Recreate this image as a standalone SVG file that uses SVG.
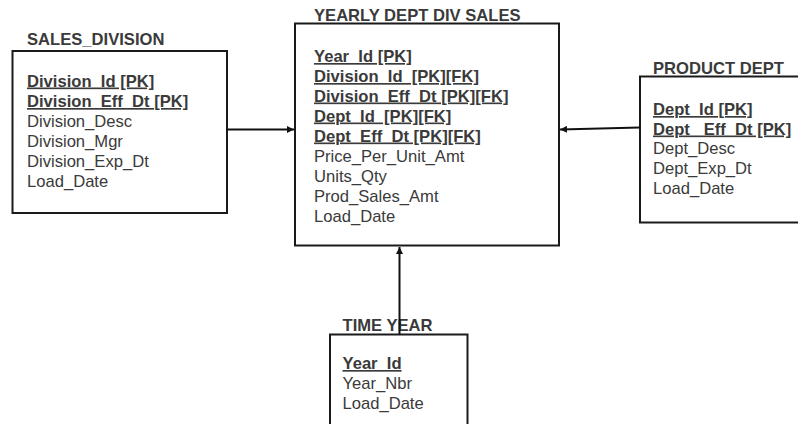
<svg xmlns="http://www.w3.org/2000/svg" width="798" height="424" viewBox="0 0 798 424">
  <style>
    text { font-family: "Liberation Sans", Arial, sans-serif; font-size: 16.6px; fill: #3a3a3a; white-space: pre; }
    .title { font-weight: bold; }
    .key { font-weight: bold; text-decoration: underline; }
    .box { fill: #ffffff; stroke: #1a1a1a; stroke-width: 2; }
    .link { stroke: #111111; stroke-width: 2; fill: none; marker-end: url(#arrow); }
  </style>
  <defs>
    <marker id="arrow" viewBox="0 0 10 10" refX="10" refY="5" markerWidth="3.5" markerHeight="3.5" orient="auto" markerUnits="strokeWidth">
      <path d="M0,0 L10,5 L0,10 z" fill="#111111"/>
    </marker>
  </defs>
  <rect width="798" height="424" fill="#ffffff"/>

  <g id="sales_division">
    <text class="title" x="27" y="45">SALES_DIVISION</text>
    <rect class="box" x="12.5" y="51" width="214.5" height="162"/>
    <text class="key" x="27" y="86.5">Division_Id [PK]</text>
    <text class="key" x="27" y="107">Division_Eff_Dt [PK]</text>
    <text x="27" y="126.5">Division_Desc</text>
    <text x="27" y="146.5">Division_Mgr</text>
    <text x="27" y="166.5">Division_Exp_Dt</text>
    <text x="27" y="186.5">Load_Date</text>
  </g>

  <g id="yearly_dept_div_sales">
    <text class="title" x="314" y="20.5">YEARLY DEPT DIV SALES</text>
    <rect class="box" x="295" y="23.5" width="264" height="222"/>
    <text class="key" x="314" y="62">Year_Id [PK]</text>
    <text class="key" x="314" y="82">Division_Id  [PK][FK]</text>
    <text class="key" x="314" y="101.5">Division_Eff_Dt [PK][FK]</text>
    <text class="key" x="314" y="121.5">Dept_Id  [PK][FK]</text>
    <text class="key" x="314" y="141.5">Dept_Eff_Dt [PK][FK]</text>
    <text x="314" y="161.5">Price_Per_Unit_Amt</text>
    <text x="314" y="181.5">Units_Qty</text>
    <text x="314" y="201.5">Prod_Sales_Amt</text>
    <text x="314" y="221.5">Load_Date</text>
  </g>

  <g id="product_dept">
    <text class="title" x="653" y="73.5">PRODUCT DEPT</text>
    <rect class="box" x="640" y="76.5" width="170" height="146"/>
    <text class="key" x="653" y="115">Dept_Id [PK]</text>
    <text class="key" x="653" y="134.5">Dept_ Eff_Dt [PK]</text>
    <text x="653" y="154">Dept_Desc</text>
    <text x="653" y="174">Dept_Exp_Dt</text>
    <text x="653" y="194">Load_Date</text>
  </g>

  <g id="time_year">
    <text class="title" x="342.5" y="330.5">TIME YEAR</text>
    <rect class="box" x="330" y="334.5" width="137.5" height="100"/>
    <text class="key" x="342.5" y="369">Year_Id</text>
    <text x="342.5" y="389">Year_Nbr</text>
    <text x="342.5" y="409">Load_Date</text>
  </g>

  <g id="connectors">
    <line class="link" x1="227" y1="129.5" x2="294" y2="129.5"/>
    <line class="link" x1="640" y1="127.5" x2="560" y2="129.5"/>
    <line class="link" x1="399.5" y1="334" x2="399.5" y2="247"/>
  </g>
</svg>
